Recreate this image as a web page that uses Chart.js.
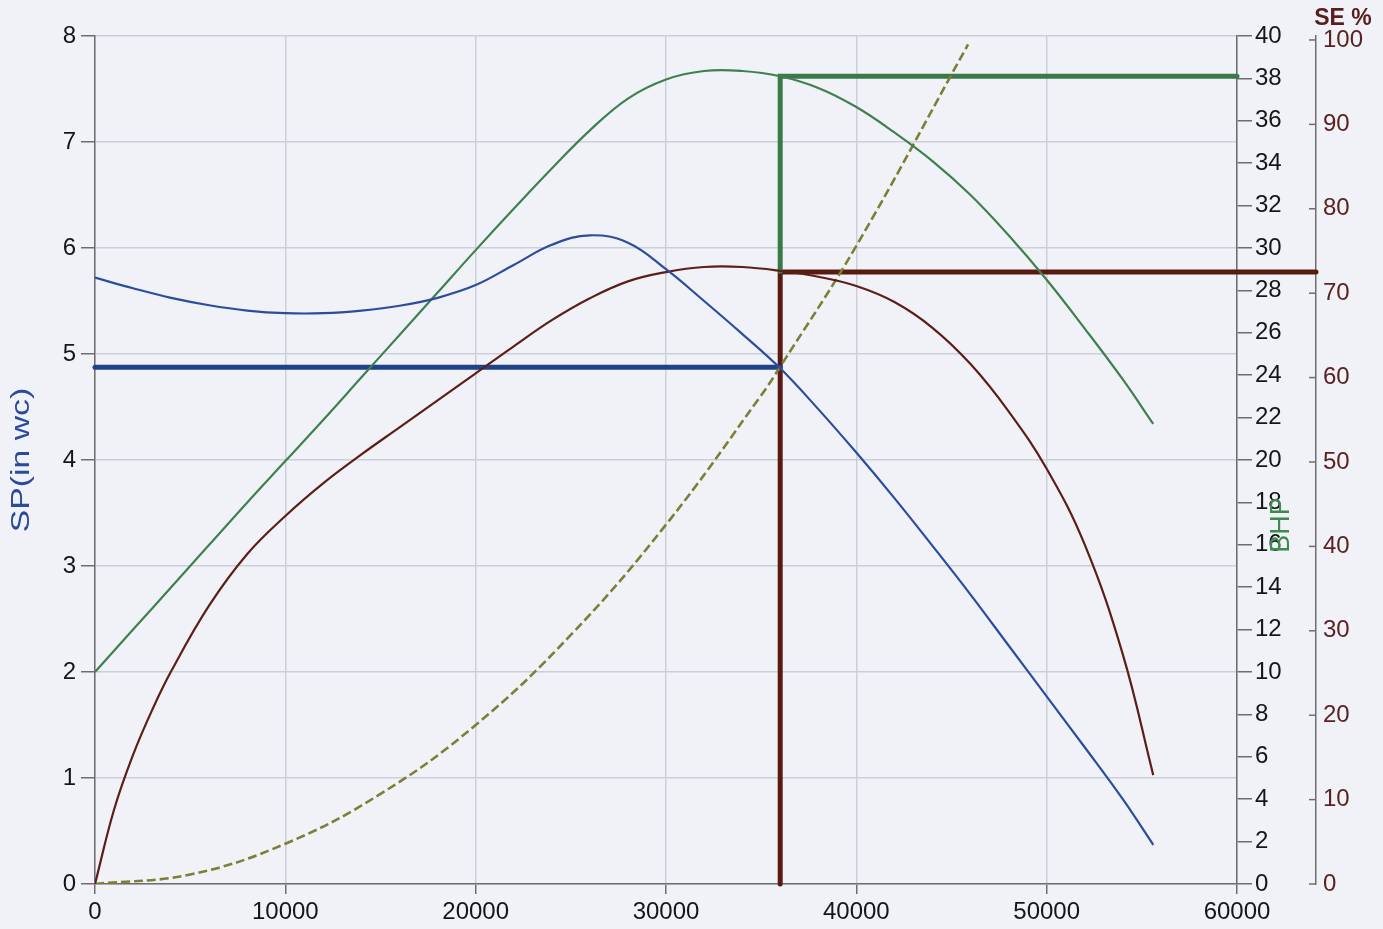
<!DOCTYPE html>
<html>
<head>
<meta charset="utf-8">
<script src="https://cdn.jsdelivr.net/npm/chart.js@4"></script>
<style>
  body { margin: 0; background: #f0f2f7; }
  #wrap { width: 1383px; height: 929px; }
</style>
</head>
<body>
<div id="wrap"><canvas id="fanChart" width="1383" height="929"></canvas></div>
<script>
// Fan curves (flow in cfm)
const flow = [0, 2000, 4000, 6000, 8000, 10000, 12000, 14000, 16000, 18000, 20000, 22000, 24000, 26000, 28000, 30000, 32000, 34000, 36000, 38000, 40000, 42000, 44000, 46000, 48000, 50000, 52000, 54000, 55600];
const spValues = [5.72, 5.62, 5.53, 5.46, 5.41, 5.385, 5.385, 5.41, 5.455, 5.53, 5.65, 5.84, 6.03, 6.12, 6.05, 5.80, 5.50, 5.19, 4.865, 4.48, 4.07, 3.64, 3.19, 2.73, 2.25, 1.77, 1.29, 0.80, 0.37];
const bhpValues = [10.0, 12.0, 14.0, 16.0, 18.0, 19.95, 21.9, 23.9, 25.9, 27.9, 29.9, 31.85, 33.75, 35.55, 37.05, 37.95, 38.35, 38.35, 38.1, 37.55, 36.65, 35.45, 34.1, 32.5, 30.6, 28.5, 26.2, 23.8, 21.7];

// Static efficiency curve (denser at the start where it climbs fast)
const seFlow = [0, 1000, 2000, 3000, 4000, 6000, 8000, 10000, 12000, 14000, 16000, 18000, 20000, 22000, 24000, 26000, 28000, 30000, 32000, 34000, 36000, 38000, 40000, 42000, 44000, 46000, 48000, 50000, 52000, 54000, 55600];
const seValues = [0, 8.8, 15.3, 20.6, 25.2, 33.0, 39.1, 43.6, 47.5, 50.9, 54.1, 57.3, 60.5, 63.7, 66.8, 69.4, 71.4, 72.5, 73.1, 73.1, 72.65, 71.95, 70.85, 68.95, 65.9, 61.6, 56.0, 49.2, 40.2, 27.2, 12.9];

// System curve
const sysFlow = [0, 5000, 10000, 15000, 20000, 25000, 30000, 35000, 36000, 40000, 45870];
const sysValues = [0, 0.09, 0.38, 0.85, 1.5, 2.35, 3.39, 4.61, 4.88, 6.02, 7.92];

// Operating point
const opFlow = 36000;
const opSP = 4.875;
const opBHP = 38.1;
const opBHPLow = 28.9;
const opSE = 72.5;
const seLineEnd = 64150; // brown line runs out to the SE axis

// Axis ticks
const flowTicks = [0, 10000, 20000, 30000, 40000, 50000, 60000];
const seTicks = [0, 10, 20, 30, 40, 50, 60, 70, 80, 90, 100];

const toPoints = (xs, ys) => xs.map((x, i) => ({ x: x, y: ys[i] }));

const gridColor = '#cdcedb';
const axisColor = '#6e6e6e';

Chart.defaults.font.family = "'Liberation Sans', Arial, sans-serif";
Chart.defaults.font.size = 24;
Chart.defaults.color = '#161616';

// Background, titles and inner tick marks on the SE axis
const decorPlugin = {
  id: 'decor',
  beforeDraw(chart) {
    const ctx = chart.ctx;
    ctx.save();
    ctx.fillStyle = '#f0f2f7';
    ctx.fillRect(0, 0, chart.width, chart.height);
    ctx.restore();
  },
  afterDraw(chart) {
    const ctx = chart.ctx;
    const area = chart.chartArea;
    const midY = (area.top + area.bottom) / 2;

    // SP title (stretched like the original)
    ctx.save();
    ctx.translate(22, midY);
    ctx.rotate(-Math.PI / 2);
    ctx.scale(1.35, 1);
    ctx.font = "25px 'Liberation Sans', Arial, sans-serif";
    ctx.fillStyle = '#2a4a9c';
    ctx.textAlign = 'center';
    ctx.textBaseline = 'middle';
    ctx.fillText('SP(in wc)', 0, 0);
    ctx.restore();

    // BHP title
    ctx.save();
    ctx.translate(1282, 525);
    ctx.rotate(-Math.PI / 2);
    ctx.font = "27px 'Liberation Sans', Arial, sans-serif";
    ctx.fillStyle = '#3f8a50';
    ctx.textAlign = 'center';
    ctx.textBaseline = 'middle';
    ctx.fillText('BHP', 0, 0);
    ctx.restore();

    // SE % title
    const se = chart.scales.ySe;
    ctx.save();
    ctx.font = "bold 23px 'Liberation Sans', Arial, sans-serif";
    ctx.fillStyle = '#5a1e1e';
    ctx.textAlign = 'center';
    ctx.textBaseline = 'middle';
    ctx.fillText('SE %', se.left + 27, 19);
    ctx.restore();

    // SE tick marks on the inner side
    ctx.save();
    ctx.strokeStyle = axisColor;
    ctx.lineWidth = 1.5;
    se.ticks.forEach(t => {
      const y = se.getPixelForValue(t.value);
      ctx.beginPath();
      ctx.moveTo(se.left - 7, y);
      ctx.lineTo(se.left, y);
      ctx.stroke();
    });
    ctx.restore();
  }
};

const thinLine = (color, axis, data) => ({
  data: data,
  yAxisID: axis,
  borderColor: color,
  borderWidth: 2.2,
  pointRadius: 0,
  fill: false,
  tension: 0.4
});

const thickLine = (color, axis, data) => ({
  data: data,
  yAxisID: axis,
  borderColor: color,
  borderWidth: 5,
  pointRadius: 0,
  fill: false,
  tension: 0,
  clip: false,
  borderCapStyle: 'round'
});

const datasets = [
  thinLine('#2b4d9b', 'y', toPoints(flow, spValues)),
  thinLine('#3f8050', 'yBhp', toPoints(flow, bhpValues)),
  thinLine('#5c1f18', 'ySe', toPoints(seFlow, seValues)),
  Object.assign(thinLine('#7d7f35', 'y', toPoints(sysFlow, sysValues)), { borderDash: [9, 4], borderWidth: 2.6 }),
  thickLine('#1f4288', 'y', [{ x: 0, y: opSP }, { x: opFlow, y: opSP }]),
  thickLine('#3a7a48', 'yBhp', [{ x: opFlow, y: opBHPLow }, { x: opFlow, y: opBHP }, { x: 60000, y: opBHP }]),
  thickLine('#5a1a14', 'ySe', [{ x: opFlow, y: 0 }, { x: opFlow, y: opSE }, { x: seLineEnd, y: opSE }])
];

const plain = v => String(v);

new Chart(document.getElementById('fanChart'), {
  type: 'line',
  data: { datasets: datasets },
  options: {
    responsive: false,
    animation: false,
    layout: { padding: { top: 36, left: 0, right: 0, bottom: 0 } },
    plugins: { legend: { display: false }, tooltip: { enabled: false } },
    scales: {
      x: {
        type: 'linear',
        min: 0,
        max: 60000,
        afterBuildTicks: s => { s.ticks = flowTicks.map(v => ({ value: v })); },
        afterFit: s => { s.height = 45; },
        grid: { color: gridColor, lineWidth: 1.5, tickLength: 10, tickColor: axisColor },
        border: { color: axisColor, width: 1.5 },
        ticks: { padding: 4, maxRotation: 0, callback: plain }
      },
      y: {
        position: 'left',
        min: 0,
        max: 8,
        ticks: { stepSize: 1, padding: 5, callback: plain },
        afterFit: s => { s.width = 95; },
        grid: { color: gridColor, lineWidth: 1.5, tickLength: 14, tickColor: axisColor },
        border: { color: axisColor, width: 1.5 }
      },
      yBhp: {
        position: 'right',
        weight: 0,
        min: 0,
        max: 40,
        ticks: { stepSize: 2, padding: 3, callback: plain },
        afterFit: s => { s.width = 79; },
        grid: { drawOnChartArea: false, tickLength: 15, tickColor: axisColor, lineWidth: 1.5 },
        border: { color: axisColor, width: 1.5 }
      },
      ySe: {
        position: 'right',
        weight: 1,
        min: 0,
        max: 100.47,
        afterBuildTicks: s => { s.ticks = seTicks.map(v => ({ value: v })); },
        afterFit: s => { s.width = 67; },
        ticks: { padding: 7, color: '#5b2222', callback: plain },
        grid: { drawOnChartArea: false, drawTicks: false },
        border: { color: axisColor, width: 1.5 }
      }
    }
  },
  plugins: [decorPlugin]
});
</script>
</body>
</html>
